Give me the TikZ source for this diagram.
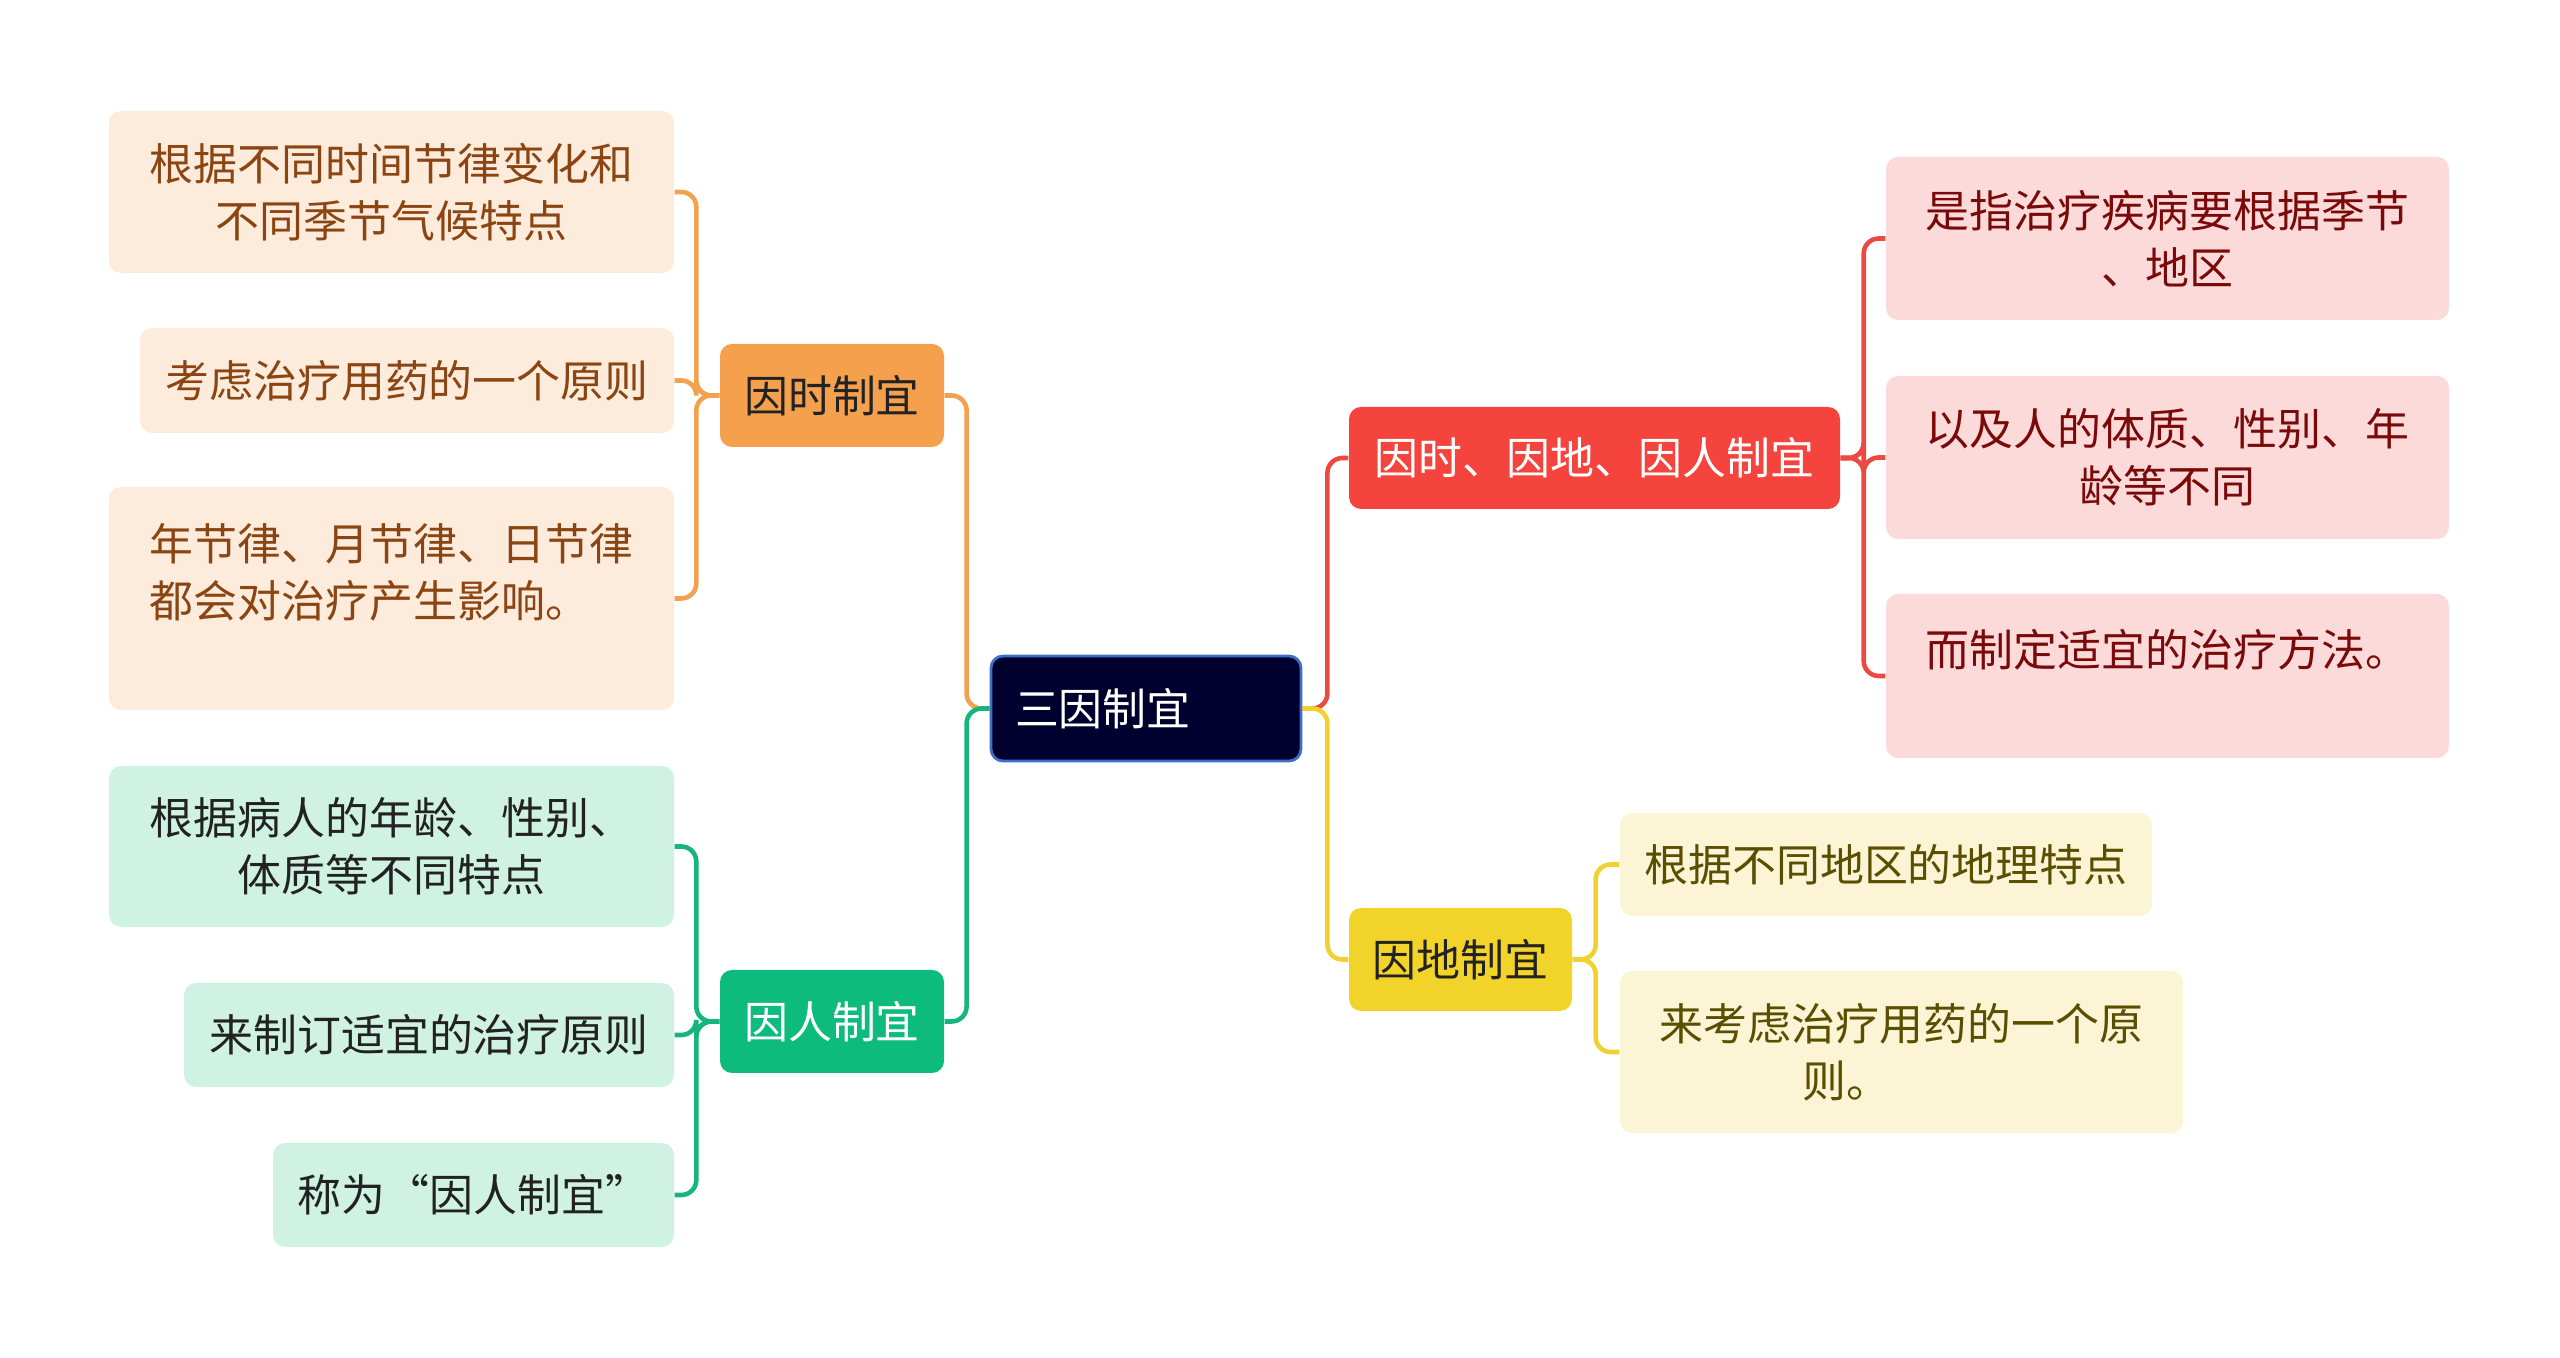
\documentclass[tikz,border=0pt]{standalone}
\usepackage{fontspec}
\setmainfont{Noto Sans CJK SC}

\definecolor{navy}{HTML}{00002E}
\definecolor{navyline}{HTML}{3D6FC9}
\definecolor{orfill}{HTML}{F5A04D}
\definecolor{orline}{HTML}{F2A24F}
\definecolor{orleaf}{HTML}{FDEBDC}
\definecolor{ortext}{HTML}{8B4513}
\definecolor{grfill}{HTML}{0DBB7D}
\definecolor{grline}{HTML}{17B57E}
\definecolor{grleaf}{HTML}{CFF2E3}
\definecolor{rdfill}{HTML}{F4443D}
\definecolor{rdline}{HTML}{EB4A42}
\definecolor{rdleaf}{HTML}{FDDADA}
\definecolor{rdtext}{HTML}{7A0A0A}
\definecolor{ylfill}{HTML}{F2D32A}
\definecolor{ylline}{HTML}{F0D130}
\definecolor{ylleaf}{HTML}{FCF5D5}
\definecolor{yltext}{HTML}{5A4E00}
\definecolor{darktext}{HTML}{222222}

\begin{document}
\begin{tikzpicture}[
  every node/.style={font=\fontsize{12.5}{16.2}\selectfont, align=center, inner sep=0pt, rounded corners=0.12cm},
  rootbox/.style={fill=navy, draw=navyline, line width=0.8pt, text=white, text width=2.62cm, align=left, inner xsep=0.24cm, minimum height=1.05cm},
  branch/.style={minimum height=1.03cm},
  leaf/.style={minimum width=5.65cm},
  link/.style={line width=1.3pt, rounded corners=0.15cm}
]
  \useasboundingbox (0,0) rectangle (25.6,-13.58);

  \node[rootbox] (root) at (11.46,-7.085) {三因制宜};

  % left side
  \node[branch, fill=orfill, text=darktext, minimum width=2.24cm] (shi) at (8.32,-3.955) {因时制宜};
  \node[branch, fill=grfill, text=white, minimum width=2.24cm] (ren) at (8.32,-10.215) {因人制宜};

  \node[leaf, fill=orleaf, text=ortext, minimum height=1.62cm] (shi1) at (3.915,-1.92) {根据不同时间节律变化和\\不同季节气候特点};
  \node[fill=orleaf, text=ortext, minimum width=5.34cm, minimum height=1.05cm] (shi2) at (4.07,-3.805) {考虑治疗用药的一个原则};
  \node[leaf, fill=orleaf, text=ortext, align=left, minimum height=2.23cm] (shi3) at (3.915,-5.985) {年节律、月节律、日节律\\都会对治疗产生影响。\\\mbox{}};

  \node[leaf, fill=grleaf, text=darktext, minimum height=1.61cm] (ren1) at (3.915,-8.465) {根据病人的年龄、性别、\\体质等不同特点};
  \node[fill=grleaf, text=darktext, minimum width=4.90cm, minimum height=1.04cm] (ren2) at (4.29,-10.35) {来制订适宜的治疗原则};
  \node[fill=grleaf, text=darktext, minimum width=4.01cm, minimum height=1.04cm] (ren3) at (4.735,-11.95) {称为“因人制宜”};

  % right side
  \node[fill=rdfill, text=white, minimum width=4.91cm, minimum height=1.02cm] (all) at (15.945,-4.58) {因时、因地、因人制宜};
  \node[branch, fill=ylfill, text=darktext, minimum width=2.23cm] (di) at (14.605,-9.595) {因地制宜};

  \node[leaf, fill=rdleaf, text=rdtext, minimum width=5.63cm, minimum height=1.63cm] (all1) at (21.675,-2.385) {是指治疗疾病要根据季节\\、地区};
  \node[leaf, fill=rdleaf, text=rdtext, minimum width=5.63cm, minimum height=1.63cm] (all2) at (21.675,-4.575) {以及人的体质、性别、年\\龄等不同};
  \node[leaf, fill=rdleaf, text=rdtext, minimum width=5.63cm, minimum height=1.64cm] (all3) at (21.675,-6.76) {而制定适宜的治疗方法。\\\mbox{}};

  \node[fill=ylleaf, text=yltext, minimum width=5.32cm, minimum height=1.03cm] (di1) at (18.86,-8.645) {根据不同地区的地理特点};
  \node[fill=ylleaf, text=yltext, minimum width=5.63cm, minimum height=1.62cm] (di2) at (19.015,-10.52) {来考虑治疗用药的一个原\\则。\hspace*{1.1cm}};

  % links
  \draw[link, orline] (root.west) -- ++(-0.23,0) |- (shi.east);
  \draw[link, grline] (root.west) -- ++(-0.23,0) |- (ren.east);
  \draw[link, rdline] (root.east) -- ++(0.25,0) |- (all.west);
  \draw[link, ylline] (root.east) -- ++(0.25,0) |- (di.west);

  \foreach \n in {shi1,shi2,shi3}
    \draw[link, orline] (shi.west) -- ++(-0.23,0) |- (\n.east);
  \foreach \n in {ren1,ren2,ren3}
    \draw[link, grline] (ren.west) -- ++(-0.23,0) |- (\n.east);
  \foreach \n in {all1,all2,all3}
    \draw[link, rdline] (all.east) -- ++(0.23,0) |- (\n.west);
  \foreach \n in {di1,di2}
    \draw[link, ylline] (di.east) -- ++(0.23,0) |- (\n.west);
\end{tikzpicture}
\end{document}
